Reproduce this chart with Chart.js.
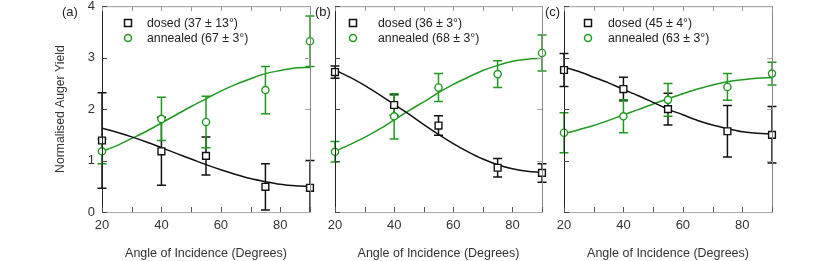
<!DOCTYPE html>
<html lang="en">
<head>
<meta charset="UTF-8" />
<title>Normalised Auger Yield vs Angle of Incidence</title>
<script src="https://cdn.jsdelivr.net/npm/chart.js"></script>
<style>
  body { margin: 0; background: #fff; }
  .wrap { position: relative; width: 830px; height: 261px; overflow: hidden; }
  .wrap canvas { position: absolute; left: 0; top: 0; }
  .tag { position: absolute; font: 13px 'Liberation Sans', Arial, sans-serif; color: #222; line-height: 15px; }
</style>
</head>
<body>
<div class="wrap">
  <canvas id="panelA" width="830" height="261"></canvas>
  <canvas id="panelB" width="830" height="261"></canvas>
  <canvas id="panelC" width="830" height="261"></canvas>
  <div class="tag" style="left:62px;top:4px">(a)</div>
  <div class="tag" style="left:315px;top:4px">(b)</div>
  <div class="tag" style="left:545px;top:4px">(c)</div>
</div>

<script>
  // measured angles and fit sample angles
  const angles = [20, 40, 55, 75, 90];
  const fitAngles = [20, 25, 30, 35, 40, 45, 50, 55, 60, 65, 70, 75, 80, 85, 90];
  const xTickLabels = [20, 40, 60, 80];
  const yTickValues = [0, 1, 2, 3, 4];

  // (a)
  const dosedA = [1.39, 1.18, 1.09, 0.49, 0.47];
  const dosedErrA = [0.93, 0.66, 0.37, 0.45, 0.53];
  const annealedA = [1.18, 1.81, 1.75, 2.37, 3.32];
  const annealedErrA = [0.24, 0.42, 0.50, 0.46, 0.49];
  const dosedFitA = [1.63, 1.55, 1.46, 1.36, 1.25, 1.14, 1.03, 0.92, 0.82, 0.73, 0.65, 0.59, 0.54, 0.51, 0.50];
  const annealedFitA = [1.18, 1.29, 1.43, 1.57, 1.73, 1.89, 2.05, 2.20, 2.35, 2.48, 2.59, 2.69, 2.75, 2.80, 2.81];

  // (b)
  const dosedB = [2.72, 2.08, 1.68, 0.86, 0.76];
  const dosedErrB = [0.12, 0.20, 0.19, 0.18, 0.18];
  const annealedB = [1.17, 1.86, 2.42, 2.68, 3.09];
  const annealedErrB = [0.20, 0.44, 0.27, 0.26, 0.35];
  const dosedFitB = [2.76, 2.62, 2.46, 2.28, 2.09, 1.90, 1.70, 1.51, 1.33, 1.17, 1.03, 0.92, 0.84, 0.79, 0.77];
  const annealedFitB = [1.18, 1.31, 1.45, 1.61, 1.79, 1.97, 2.14, 2.32, 2.48, 2.62, 2.75, 2.85, 2.93, 2.97, 2.99];

  // (c)
  const dosedC = [2.76, 2.39, 2.00, 1.57, 1.50];
  const dosedErrC = [0.32, 0.23, 0.31, 0.50, 0.55];
  const annealedC = [1.54, 1.86, 2.18, 2.43, 2.69];
  const annealedErrC = [0.39, 0.32, 0.32, 0.26, 0.22];
  const dosedFitC = [2.82, 2.73, 2.62, 2.51, 2.38, 2.26, 2.13, 2.00, 1.89, 1.78, 1.69, 1.62, 1.56, 1.53, 1.52];
  const annealedFitC = [1.52, 1.60, 1.68, 1.78, 1.89, 1.99, 2.10, 2.20, 2.30, 2.39, 2.47, 2.53, 2.57, 2.60, 2.61];

  const dosedLabels = ['dosed (37 \u00b1 13\u00b0)', 'dosed (36 \u00b1 3\u00b0)', 'dosed (45 \u00b1 4\u00b0)'];
  const annealedLabels = ['annealed (67 \u00b1 3\u00b0)', 'annealed (68 \u00b1 3\u00b0)', 'annealed (63 \u00b1 3\u00b0)'];

  const BLACK = '#111';
  const GREEN = '#1f9a1f';
  const FONT = "'Liberation Sans', Arial, sans-serif";

  const pts = (xs, ys) => xs.map((x, i) => ({ x: x, y: ys[i] }));

  // error bars, frame with inward ticks, and the in-plot legend
  const panelDecor = {
    id: 'panelDecor',
    beforeDatasetsDraw(chart) {
      const ctx = chart.ctx, x = chart.scales.x, y = chart.scales.y, a = chart.chartArea;
      ctx.save();
      ctx.beginPath();
      ctx.rect(0, a.top, chart.width, a.bottom - a.top);
      ctx.clip();
      chart.data.datasets.forEach(ds => {
        if (!ds.errors) return;
        ctx.strokeStyle = ds.borderColor;
        ctx.lineWidth = 1.5;
        ds.data.forEach((p, i) => {
          const px = x.getPixelForValue(p.x);
          const y1 = y.getPixelForValue(p.y + ds.errors[i]);
          const y2 = y.getPixelForValue(p.y - ds.errors[i]);
          ctx.beginPath();
          ctx.moveTo(px, y1); ctx.lineTo(px, y2);
          ctx.moveTo(px - 4.5, y1); ctx.lineTo(px + 4.5, y1);
          ctx.moveTo(px - 4.5, y2); ctx.lineTo(px + 4.5, y2);
          ctx.stroke();
        });
      });
      ctx.restore();
    },
    afterDatasetsDraw(chart, args, opts) {
      const ctx = chart.ctx, x = chart.scales.x, y = chart.scales.y, a = chart.chartArea;
      ctx.save();
      ctx.lineWidth = 1;
      // frame
      const edge = (c, x1, y1, x2, y2) => {
        ctx.strokeStyle = c; ctx.beginPath(); ctx.moveTo(x1, y1); ctx.lineTo(x2, y2); ctx.stroke();
      };
      edge('#999', a.left, a.top + 0.5, a.right, a.top + 0.5);
      edge('#888', a.right + 0.5, a.top, a.right + 0.5, a.bottom);
      edge('#aaa', a.left, a.bottom + 0.5, a.right + 1, a.bottom + 0.5);
      edge('#222', a.left + 0.5, a.top, a.left + 0.5, a.bottom + 1);
      // inward ticks
      for (let v = x.min; v <= x.max; v += 10) {
        const px = Math.round(x.getPixelForValue(v)) + 0.5;
        edge('#555', px, a.bottom, px, a.bottom - 5);
        edge('#999', px, a.top, px, a.top + 5);
      }
      yTickValues.forEach(v => {
        const py = Math.round(y.getPixelForValue(v)) + 0.5;
        edge('#444', a.left, py, a.left + 5, py);
        edge('#aaa', a.right, py, a.right - 5, py);
      });
      // legend
      const mx = a.left + opts.markerDx, tx = a.left + opts.textDx;
      ctx.font = '12.3px ' + FONT;
      ctx.textBaseline = 'middle';
      ctx.lineWidth = 1.5;
      ctx.strokeStyle = BLACK;
      ctx.strokeRect(mx - 3.5, 23 - 3.5, 7, 7);
      ctx.strokeStyle = GREEN;
      ctx.beginPath(); ctx.arc(mx, 38, 3.5, 0, Math.PI * 2); ctx.stroke();
      ctx.fillStyle = '#222';
      ctx.fillText(opts.dosed, tx, 24);
      ctx.fillText(opts.annealed, tx, 39);
      ctx.restore();
    }
  };

  function makePanel(id, p) {
    const noPad = s => { s.paddingTop = 0; s.paddingBottom = 0; s.paddingLeft = 0; s.paddingRight = 0; };
    return new Chart(document.getElementById(id), {
      type: 'scatter',
      data: {
        datasets: [
          { type: 'scatter', data: pts(angles, p.dosed), errors: p.dosedErr, order: 0, clip: false,
            pointStyle: 'rect', pointRadius: 4.8, borderColor: BLACK, backgroundColor: '#fff', borderWidth: 1.4 },
          { type: 'scatter', data: pts(angles, p.annealed), errors: p.annealedErr, order: 0, clip: false,
            pointStyle: 'circle', pointRadius: 3.6, borderColor: GREEN, backgroundColor: '#fff', borderWidth: 1.4 },
          { type: 'line', data: pts(fitAngles, p.dosedFit), order: 1, borderColor: BLACK, borderWidth: 1.5,
            pointRadius: 0, tension: 0.4, cubicInterpolationMode: 'monotone', fill: false },
          { type: 'line', data: pts(fitAngles, p.annealedFit), order: 1, borderColor: GREEN, borderWidth: 1.5,
            pointRadius: 0, tension: 0.4, cubicInterpolationMode: 'monotone', fill: false }
        ]
      },
      options: {
        responsive: false,
        animation: false,
        events: [],
        layout: { padding: { top: 5, left: 0, right: 830 - p.right, bottom: 0 } },
        plugins: {
          legend: { display: false },
          tooltip: { enabled: false },
          panelDecor: { dosed: p.dosedLabel, annealed: p.annealedLabel, markerDx: p.markerDx, textDx: p.textDx }
        },
        scales: {
          x: {
            type: 'linear', min: 20, max: 90,
            grid: { display: false, drawTicks: false },
            border: { display: false },
            ticks: {
              stepSize: 10, autoSkip: false, maxRotation: 0, padding: 6, color: '#333',
              font: { family: FONT, size: 13 },
              callback: v => xTickLabels.includes(v) ? String(v) : ''
            },
            title: { display: true, text: 'Angle of Incidence (Degrees)', color: '#333',
              font: { family: FONT, size: 12.5 }, padding: { top: 0, bottom: 0 } },
            afterFit: s => { s.height = 49; noPad(s); }
          },
          y: {
            min: 0, max: 4,
            grid: { display: false, drawTicks: false },
            border: { display: false },
            ticks: { display: p.showY, stepSize: 1, padding: 7, color: '#333', font: { family: FONT, size: 13 } },
            title: { display: p.showY, text: 'Normalised Auger Yield', color: '#333',
              font: { family: FONT, size: 12.2 }, padding: { top: 53, bottom: 0 } },
            afterFit: s => { s.width = p.left; noPad(s); }
          }
        }
      },
      plugins: [panelDecor]
    });
  }

  makePanel('panelA', { left: 102, right: 310, showY: true, markerDx: 26, textDx: 45,
    dosed: dosedA, dosedErr: dosedErrA, annealed: annealedA, annealedErr: annealedErrA,
    dosedFit: dosedFitA, annealedFit: annealedFitA, dosedLabel: dosedLabels[0], annealedLabel: annealedLabels[0] });
  makePanel('panelB', { left: 335, right: 542, showY: false, markerDx: 18, textDx: 43,
    dosed: dosedB, dosedErr: dosedErrB, annealed: annealedB, annealedErr: annealedErrB,
    dosedFit: dosedFitB, annealedFit: annealedFitB, dosedLabel: dosedLabels[1], annealedLabel: annealedLabels[1] });
  makePanel('panelC', { left: 564, right: 772, showY: false, markerDx: 24, textDx: 44,
    dosed: dosedC, dosedErr: dosedErrC, annealed: annealedC, annealedErr: annealedErrC,
    dosedFit: dosedFitC, annealedFit: annealedFitC, dosedLabel: dosedLabels[2], annealedLabel: annealedLabels[2] });
</script>
</body>
</html>
